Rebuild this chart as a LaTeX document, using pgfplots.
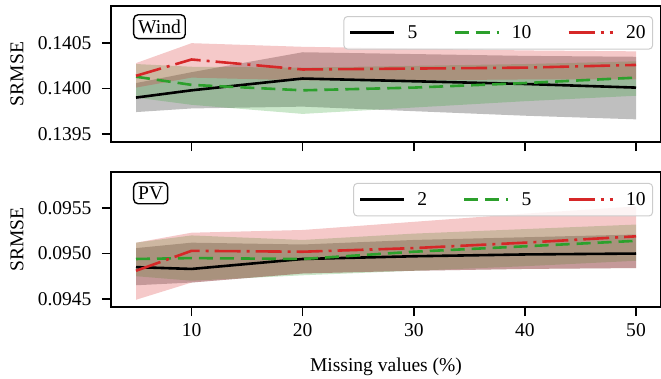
\documentclass[border=0pt]{standalone}
\usepackage{fontspec}
\setmainfont{Liberation Serif}
\usepackage{pgfplots}
\usepackage{pgfplotstable}
\pgfplotsset{compat=1.18}
\usepgfplotslibrary{fillbetween}
\definecolor{tgreen}{HTML}{2CA02C}
\definecolor{tred}{HTML}{D62728}

\pgfplotstableread{
x km klo khi gm glo ghi rm rlo rhi
5  0.13990 0.13974 0.14006 0.14013 0.13990 0.14027 0.14014 0.14001 0.14028
10 0.13998 0.13978 0.14018 0.14004 0.13982 0.14024 0.14032 0.14012 0.14050
20 0.14011 0.13980 0.14040 0.13998 0.13972 0.14023 0.14021 0.14009 0.14046
30 0.14008 0.13975 0.14038 0.14001 0.13979 0.14025 0.14022 0.14009 0.14044
40 0.14005 0.13970 0.14036 0.14006 0.13986 0.14027 0.14023 0.14010 0.14042
50 0.14001 0.13966 0.14035 0.14012 0.13992 0.14030 0.14026 0.14010 0.14041
}\wind

\pgfplotstableread{
x km klo khi gm glo ghi rm rlo rhi
5  0.09485 0.09465 0.09506 0.09494 0.09475 0.09512 0.09481 0.09449 0.09512
10 0.09483 0.09468 0.09512 0.09495 0.09470 0.09520 0.09503 0.09468 0.09523
20 0.09494 0.09478 0.09510 0.09494 0.09476 0.09515 0.09502 0.09478 0.09526
30 0.09497 0.09481 0.09515 0.09502 0.09481 0.09522 0.09506 0.09481 0.09535
40 0.09499 0.09483 0.09518 0.09508 0.09486 0.09527 0.09512 0.09483 0.09544
50 0.09500 0.09484 0.09521 0.09514 0.09492 0.09532 0.09519 0.09484 0.09552
}\pv

\newcommand{\fnt}{\fontsize{19.6}{23}\selectfont}

\pgfplotsset{
  myaxis/.style={
    scale only axis, width=550bp, height=135bp,
    xmin=2.75, xmax=52.25,
    xtick={10,20,30,40,50},
    tick align=outside, tick pos=left,
    major tick length=9bp,
    every tick/.style={line width=1.5bp, black},
    axis line style={line width=1.5bp},
    /pgf/number format/assume math mode=true,
    scaled y ticks=false,
    yticklabel style={/pgf/number format/.cd, fixed, fixed zerofill, precision=4},
    yticklabel shift=7bp,
    xticklabel shift=4bp,
    tick label style={font=\fnt},
    label style={font=\fnt},
    ylabel={SRMSE},
    ylabel style={at={(axis description cs:-0.171,0.5)}, anchor=center},
    legend columns=3,
    legend cell align=left,
    legend image code/.code={\draw[##1] (0bp,0bp) -- (44bp,0bp);},
    legend style={font=\fnt, draw=black!20, line width=1bp, rounded corners=3.5bp,
      fill=white, fill opacity=0.8, text opacity=1, anchor=north east,
      inner xsep=5bp, inner ysep=7bp,
      /tikz/every odd column/.append style={column sep=10bp},
      /tikz/every even column/.append style={column sep=34bp}},
    kline/.style={black, line width=2.6bp},
    gline/.style={tgreen, line width=2.6bp, dash pattern=on 14bp off 7bp},
    rline/.style={tred, line width=2.6bp, dash pattern=on 26bp off 6bp on 3bp off 6bp},
  }
}

\begin{document}
\begin{tikzpicture}[font=\fnt]
\begin{axis}[myaxis, name=top, at={(0,0)}, anchor=north west, height=136bp,
  ymin=0.13941, ymax=0.14091, ytick={0.1395,0.1400,0.1405},
  xticklabels={},
  legend style={at={(0.9855,0.926)}}]
\addplot[kline] table[x=x,y=km]{\wind};
\addplot[gline] table[x=x,y=gm]{\wind};
\addplot[rline] table[x=x,y=rm]{\wind};
\legend{5,10,20}
\addplot[draw=none, name path=khi, forget plot] table[x=x,y=khi]{\wind};
\addplot[draw=none, name path=klo, forget plot] table[x=x,y=klo]{\wind};
\addplot[draw=none, name path=ghi, forget plot] table[x=x,y=ghi]{\wind};
\addplot[draw=none, name path=glo, forget plot] table[x=x,y=glo]{\wind};
\addplot[draw=none, name path=rhi, forget plot] table[x=x,y=rhi]{\wind};
\addplot[draw=none, name path=rlo, forget plot] table[x=x,y=rlo]{\wind};
\addplot[fill=black, fill opacity=0.25, draw=none, forget plot] fill between[of=khi and klo];
\addplot[fill=tgreen, fill opacity=0.25, draw=none, forget plot] fill between[of=ghi and glo];
\addplot[fill=tred, fill opacity=0.25, draw=none, forget plot] fill between[of=rhi and rlo];
\node[draw, rounded corners=4.5bp, line width=1.4bp, inner xsep=4.5bp, inner ysep=5bp, anchor=north west, fill=white, font=\fnt]
  at (axis description cs:0.04,0.941) {Wind};
\end{axis}

\begin{axis}[myaxis, name=bot, at={(0,-166bp)}, anchor=north west,
  ymin=0.09441, ymax=0.09590, ytick={0.0945,0.0950,0.0955},
  xlabel={Missing values (\%)},
  xlabel style={at={(axis description cs:0.5,-0.445)}, anchor=center},
  legend style={at={(0.9855,0.919)}}]
\addplot[kline] table[x=x,y=km]{\pv};
\addplot[gline] table[x=x,y=gm]{\pv};
\addplot[rline] table[x=x,y=rm]{\pv};
\legend{2,5,10}
\addplot[draw=none, name path=khi, forget plot] table[x=x,y=khi]{\pv};
\addplot[draw=none, name path=klo, forget plot] table[x=x,y=klo]{\pv};
\addplot[draw=none, name path=ghi, forget plot] table[x=x,y=ghi]{\pv};
\addplot[draw=none, name path=glo, forget plot] table[x=x,y=glo]{\pv};
\addplot[draw=none, name path=rhi, forget plot] table[x=x,y=rhi]{\pv};
\addplot[draw=none, name path=rlo, forget plot] table[x=x,y=rlo]{\pv};
\addplot[fill=black, fill opacity=0.25, draw=none, forget plot] fill between[of=khi and klo];
\addplot[fill=tgreen, fill opacity=0.25, draw=none, forget plot] fill between[of=ghi and glo];
\addplot[fill=tred, fill opacity=0.25, draw=none, forget plot] fill between[of=rhi and rlo];
\node[draw, rounded corners=4.5bp, line width=1.4bp, inner xsep=4.5bp, inner ysep=4bp, anchor=north west, fill=white, font=\fnt]
  at (axis description cs:0.04,0.926) {PV};
\end{axis}
\pgfresetboundingbox
\path[use as bounding box] (-111bp,6bp) rectangle (550bp,-373bp);
\end{tikzpicture}
\end{document}
